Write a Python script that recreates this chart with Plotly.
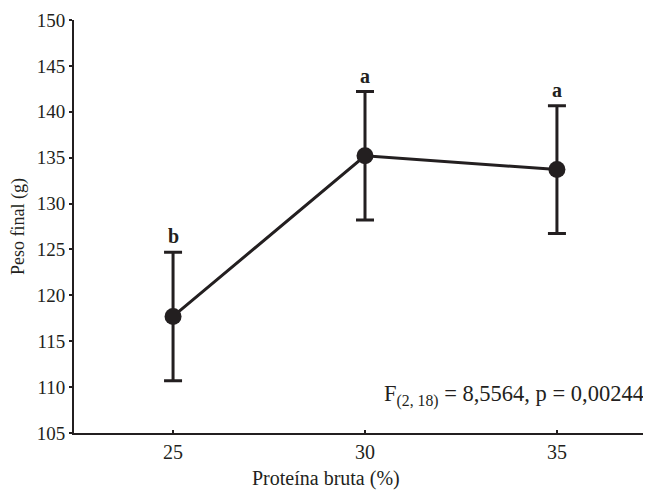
import plotly.graph_objects as go

protein = [25, 30, 35]
peso_mean = [117.7, 135.2, 133.7]
peso_err = [7.0, 7.0, 6.95]
letters = ["b", "a", "a"]
y_ticks = [105, 110, 115, 120, 125, 130, 135, 140, 145, 150]
x_ticks = [25, 30, 35]

ink = "#231f20"
font_family = "Liberation Serif, Times New Roman, serif"

fig = go.Figure()
fig.add_trace(go.Scatter(
    x=protein, y=peso_mean,
    mode="lines+markers",
    line=dict(color=ink, width=3),
    marker=dict(color=ink, size=17, symbol="circle"),
    error_y=dict(type="data", array=peso_err, visible=True,
                 color=ink, thickness=3, width=9),
    showlegend=False,
))

for x, m, e, l in zip(protein, peso_mean, peso_err, letters):
    fig.add_annotation(x=x, y=m + e, text="<b>" + l + "</b>", showarrow=False,
                       yanchor="bottom", yshift=3,
                       font=dict(family=font_family, size=20, color=ink))

fig.add_annotation(xref="x", yref="y", x=30.45, y=109.1,
                   xanchor="left", yanchor="middle", showarrow=False,
                   text="F<sub>(2, 18)</sub> = 8,5564, p = 0,00244",
                   font=dict(family=font_family, size=22.5, color=ink))

fig.add_annotation(xref="x", yref="paper", x=28.98, y=0,
                   xanchor="center", yanchor="middle", yshift=-45,
                   showarrow=False, text="Proteína bruta (%)",
                   font=dict(family=font_family, size=20, color=ink))

# page body adds an 8px offset, so the figure is sized to fit the window
fig.update_layout(
    width=643, height=482,
    margin=dict(l=66, r=0, t=12, b=57),
    paper_bgcolor="white", plot_bgcolor="white",
    font=dict(family=font_family, size=20, color=ink),
)
fig.update_xaxes(range=[22.42, 37.45], tickvals=x_ticks,
                 ticks="inside", ticklen=3, tickwidth=1.5, tickcolor=ink,
                 tickfont=dict(size=20),
                 showline=True, linecolor=ink, linewidth=2, showgrid=False,
                 zeroline=False)
fig.update_yaxes(range=[105, 150], tickvals=y_ticks,
                 ticks="outside", ticklen=3, tickwidth=2, tickcolor=ink,
                 tickfont=dict(size=19),
                 showline=True, linecolor=ink, linewidth=2, showgrid=False,
                 zeroline=False,
                 title=dict(text="Peso final (g)", standoff=10,
                            font=dict(size=18)))

fig.write_html("out.html")
